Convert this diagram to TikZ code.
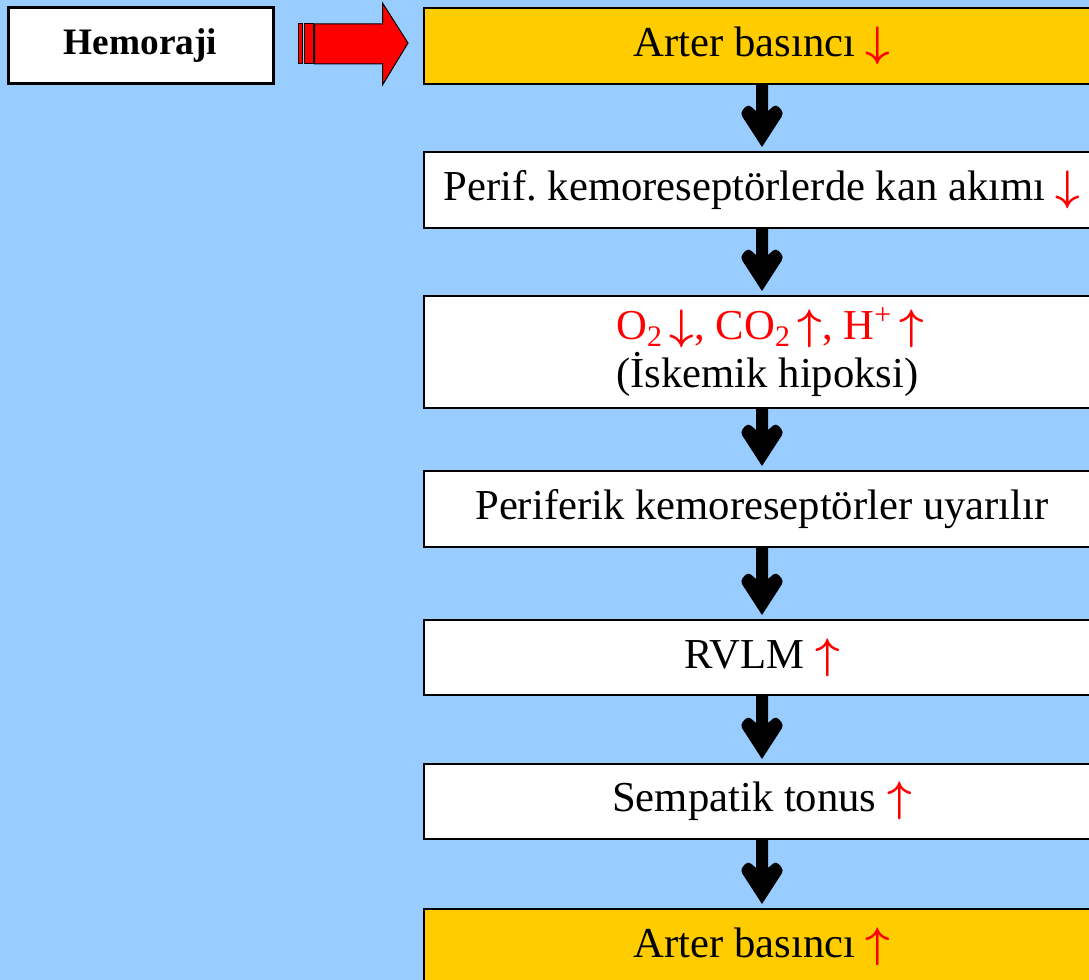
\RequirePackage{fix-cm}
\documentclass[tikz,border=0pt]{standalone}
\usepackage{fontspec}
\setmainfont{Liberation Serif}
\usepackage{xcolor}
\usetikzlibrary{calc,positioning}
\frenchspacing

\definecolor{skyblue}{HTML}{99CCFF}
\definecolor{gold}{HTML}{FFCC00}

% red trend arrows
\newcommand{\up}{\textcolor{red}{\boldmath$\uparrow$}}
\newcommand{\down}{\textcolor{red}{\boldmath$\downarrow$}}

% thick black arrow between two boxes
\newcommand{\flowarrow}[2]{%
	\fill[black] ($(#1.south)+(-6,0)$) -- ($(#2.north)+(-6,-40)$)
		[rounded corners=3pt] -- ($(#2.north)+(-14,-47)$) -- ($(#2.north)+(-22,-38)$)
		[sharp corners] -- ($(#2.north)+(0,-4)$)
		[rounded corners=3pt] -- ($(#2.north)+(22,-38)$) -- ($(#2.north)+(14,-47)$)
		[sharp corners] -- ($(#2.north)+(6,-40)$) -- ($(#1.south)+(6,0)$) -- cycle;}

\begin{document}
\begin{tikzpicture}[x=0.75pt, y=-0.75pt]
		\tikzset{box/.style={draw=black,rectangle,line width=1.5pt,inner sep=0pt,align=center,fill=white,minimum width=507pt,minimum height=57pt,font=\fontsize{32}{35}\selectfont}}

		% background
		\useasboundingbox (0,0) rectangle (1089,980);
		\clip (0,0) rectangle (1089,980);
		\fill[skyblue] (0,0) rectangle (1089,980);

		% cause
		\node[draw=black, line width=2.25pt, fill=white, minimum width=198.75pt, minimum height=57pt, font=\fontsize{28}{32}\selectfont\bfseries] (hemo) at (140.5,46) {Hemoraji};

		% chain
		\node[box, fill=gold] (b1) at (762,46) {Arter basıncı \down};

		\node[box] (b2) at (762,190) {Perif. kemoreseptörlerde kan akımı \down};

		\node[box, minimum height=84pt, align=left, font=\fontsize{32}{36}\selectfont] (b3) at (762,352) {\hspace*{12pt}\textcolor{red}{O\textsubscript{2}\,\down, CO\textsubscript{2}\,\up, H\textsuperscript{+}\,\up}\\\hspace*{12pt}(İskemik hipoksi)};

		\node[box] (b4) at (762,509) {Periferik kemoreseptörler uyarılır};

		\node[box, minimum height=56.25pt] (b5) at (762,657.5) {RVLM \up};

		\node[box, minimum height=56.25pt] (b6) at (762,801.5) {Sempatik tonus \up};

		\node[box, fill=gold] (b7) at (762,947) {Arter basıncı \up};

		% red block arrow
		\draw[fill=red, line width=0.75pt] ($(hemo.east)+(24,-22)$) rectangle ($(hemo.east)+(28,18)$);
		\draw[fill=red, line width=0.75pt] ($(hemo.east)+(30,-22)$) rectangle ($(hemo.east)+(39,18)$);
		\draw[fill=red, line width=0.75pt] ($(hemo.east)+(40,-22)$) -- ($(hemo.east)+(108,-22)$) -- ($(hemo.east)+(108,-43)$) -- ($(b1.west)+(-15,-3)$) -- ($(hemo.east)+(108,39)$) -- ($(hemo.east)+(108,18)$) -- ($(hemo.east)+(40,18)$) -- cycle;

		% arrows
		\flowarrow{b1}{b2}
		\flowarrow{b2}{b3}
		\flowarrow{b3}{b4}
		\flowarrow{b4}{b5}
		\flowarrow{b5}{b6}
		\flowarrow{b6}{b7}

	\end{tikzpicture}
\end{document}
